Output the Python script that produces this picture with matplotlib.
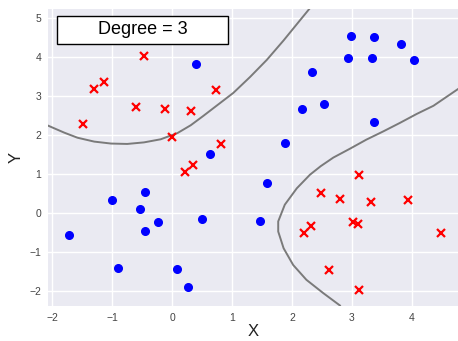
import numpy as np
import matplotlib
matplotlib.use("Agg")
import matplotlib.pyplot as plt
from matplotlib.patches import Rectangle

plt.rcParams['font.family'] = ['Liberation Sans', 'DejaVu Sans']

# class 0 (blue dots)
pos_x = [0.39, 0.64, 2.98, 3.37, 3.82, 2.94, 3.34, 4.04, 2.33, 2.17, 2.53, 3.37, 1.89,
         -1.01, -0.46, -0.53, -0.23, -0.46, -1.72, 0.50, -0.91, 0.08, 0.26, 1.59, 1.47]
pos_y = [3.82, 1.52, 4.55, 4.53, 4.34, 3.98, 3.97, 3.92, 3.61, 2.68, 2.79, 2.33, 1.80,
         0.32, 0.53, 0.10, -0.24, -0.47, -0.57, -0.15, -1.41, -1.43, -1.91, 0.76, -0.21]

# class 1 (red crosses)
neg_x = [-1.48, -1.31, -1.14, -0.47, -0.60, -0.12, 0.32, 0.74, -0.01, 0.82, 0.34, 0.22,
         3.11, 2.48, 2.80, 3.31, 3.93, 2.31, 2.20, 3.02, 3.10, 4.49, 2.62, 3.11]
neg_y = [2.29, 3.19, 3.37, 4.04, 2.71, 2.68, 2.61, 3.16, 1.95, 1.78, 1.23, 1.05,
         0.96, 0.51, 0.35, 0.27, 0.32, -0.33, -0.51, -0.23, -0.29, -0.52, -1.47, -1.98]

# decision boundary
b1_x = [-2.07, -1.80, -1.58, -1.30, -1.02, -0.75, -0.47, -0.19, 0.09, 0.31, 0.52,
        0.74, 1.02, 1.30, 1.58, 1.86, 2.13, 2.30]
b1_y = [2.24, 2.06, 1.93, 1.83, 1.78, 1.77, 1.81, 1.89, 2.05, 2.25, 2.49,
        2.75, 3.08, 3.49, 3.93, 4.43, 4.94, 5.26]
b2_x = [4.77, 4.36, 4.08, 3.80, 3.52, 3.24, 2.97, 2.69, 2.48, 2.30, 2.08, 1.88,
        1.77, 1.77, 1.86, 2.02, 2.24, 2.52, 2.80]
b2_y = [3.18, 2.75, 2.54, 2.31, 2.09, 1.88, 1.65, 1.42, 1.20, 0.98, 0.63, 0.21,
        -0.22, -0.48, -0.91, -1.34, -1.72, -2.06, -2.38]

fig = plt.figure(figsize=(4.58, 3.41), dpi=100)
ax = fig.add_axes([0.105, 0.103, 0.895, 0.871])
ax.set_facecolor('#EAEAF2')
ax.grid(True, color='white', linewidth=1.0)
ax.set_axisbelow(True)
for s in ax.spines.values():
    s.set_visible(False)

ax.plot(b1_x, b1_y, color='#7a7a7a', linewidth=1.4, solid_joinstyle='round')
ax.plot(b2_x, b2_y, color='#7a7a7a', linewidth=1.4, solid_joinstyle='round')
ax.plot(pos_x, pos_y, 'o', color='blue', markersize=5.5)
ax.plot(neg_x, neg_y, 'x', color='red', markersize=6, markeredgewidth=1.6)

ax.set_xlim(-2.07, 4.77)
ax.set_ylim(-2.39, 5.24)
ax.set_xticks(range(-2, 5))
ax.set_yticks(range(-2, 6))
ax.tick_params(length=0, labelsize=7.5, labelcolor='#444444', pad=5)
ax.set_xlabel('X', fontsize=12, color='#222222', labelpad=1)
ax.set_ylabel('Y', fontsize=12, color='#222222')

ax.add_patch(Rectangle((0.022, 0.882), 0.417, 0.094, transform=ax.transAxes,
                       facecolor='white', edgecolor='black', linewidth=1.0, zorder=5))
ax.text(0.23, 0.929, 'Degree = 3', transform=ax.transAxes, ha='center', va='center',
        fontsize=13, zorder=6)

fig.savefig('out.png', dpi=100)
